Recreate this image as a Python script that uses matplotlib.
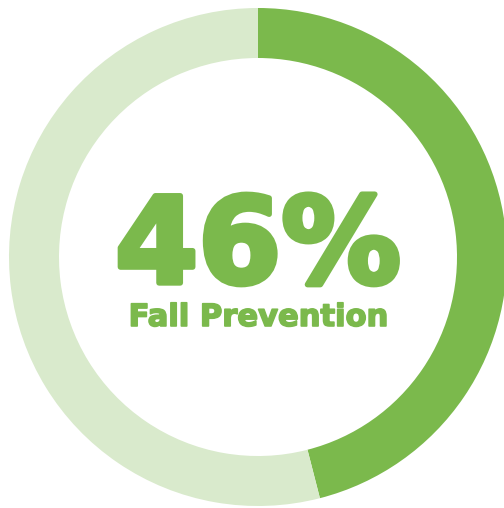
import matplotlib
matplotlib.use("Agg")
from matplotlib import pyplot as plt
from matplotlib import patheffects as pe

# share of the ring and the labels in the middle
share = 46
rest = 100 - share
headline = f"{share}%"
caption = "Fall Prevention"

green = "#7bb94c"
pale = "#d9eacc"

W, H = 504, 508
cx, cy, r = 258, 251, 249  # centre (from bottom-left) and outer radius, px

fig = plt.figure(figsize=(W / 100, H / 100), dpi=100)
ax = fig.add_axes([0, 0, 1, 1])
ax.pie(
    [share, rest],
    colors=[green, pale],
    startangle=90,
    counterclock=False,
    radius=1.0,
    wedgeprops=dict(width=50 / r, linewidth=0),
)
ax.set_xlim(-cx / r, (W - cx) / r)
ax.set_ylim(-cy / r, (H - cy) / r)
ax.set_aspect("equal")
ax.axis("off")

# heavy look: bold face plus a stroke in the same colour
ax.text(0.0, -0.104, headline, ha="center", va="baseline", color=green,
        fontsize=86, fontweight="bold", family="DejaVu Sans",
        path_effects=[pe.withStroke(linewidth=4, foreground=green)])
ax.text(0.0, -0.277, caption, ha="center", va="baseline", color=green,
        fontsize=22, fontweight="bold", family="DejaVu Sans",
        path_effects=[pe.withStroke(linewidth=1.2, foreground=green)])

fig.savefig("out.png", dpi=100)
